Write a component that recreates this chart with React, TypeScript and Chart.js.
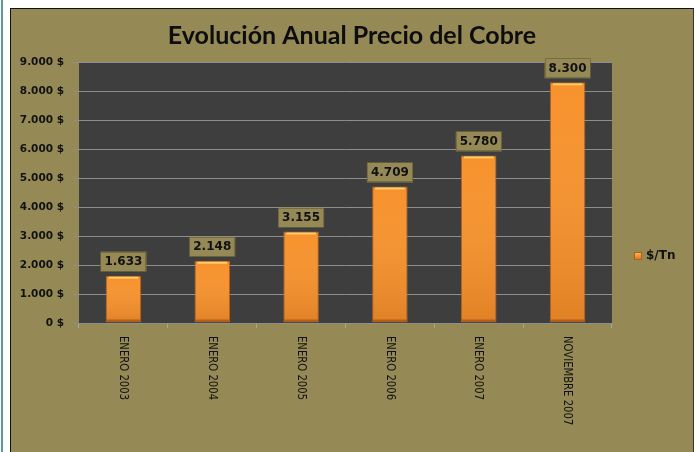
import React, { useEffect, useRef } from "react";
import { Chart, registerables } from "chart.js";

Chart.register(...registerables);

const TITLE = "Evolución Anual Precio del Cobre";
const categories = ["ENERO 2003", "ENERO 2004", "ENERO 2005", "ENERO 2006", "ENERO 2007", "NOVIEMBRE 2007"];
const seriesName = "$/Tn";
const prices = [1633, 2148, 3155, 4709, 5780, 8300];
const yMax = 9000;
const yStep = 1000;

const OLIVE = "#958a55";
const PLOT_BG = "#3e3e3e";

function fmt(v: number): string {
  const s = Math.round(v).toString();
  return s.replace(/\B(?=(\d{3})+(?!\d))/g, ".");
}

function barFill(ctx: any) {
  const chart = ctx.chart;
  const el = chart.getDatasetMeta(0).data[ctx.dataIndex] as any;
  if (!el) return "#f7922c";
  const { x, width } = el.getProps(["x", "width"], true);
  if (!width) return "#f7922c";
  const g = chart.ctx.createLinearGradient(x - width / 2, 0, x + width / 2, 0);
  g.addColorStop(0, "#c8691c");
  g.addColorStop(0.12, "#f08a2a");
  g.addColorStop(0.5, "#fb9832");
  g.addColorStop(0.88, "#f08a2a");
  g.addColorStop(1, "#c8691c");
  return g;
}

const framePlugin = {
  id: "framePlugin",
  beforeDraw(chart: any) {
    const { ctx, chartArea } = chart;
    ctx.save();
    ctx.fillStyle = PLOT_BG;
    ctx.fillRect(chartArea.left, chartArea.top, chartArea.right - chartArea.left, chartArea.bottom - chartArea.top);
    // title
    ctx.fillStyle = "#0d0d0d";
    ctx.font = "bold 25px Lato";
    ctx.textAlign = "center";
    ctx.textBaseline = "middle";
    ctx.fillText(TITLE, 352, 36);
    ctx.restore();
  },
  afterDatasetsDraw(chart: any) {
    const { ctx, chartArea } = chart;
    const meta = chart.getDatasetMeta(0);
    const data = chart.data.datasets[0].data as number[];
    ctx.save();
    // bevel highlights and vertical shading
    meta.data.forEach((el: any) => {
      const { x, y, base, width } = el.getProps(["x", "y", "base", "width"], true);
      const l = x - width / 2;
      const sh = ctx.createLinearGradient(0, y, 0, base);
      sh.addColorStop(0, "rgba(255,255,255,0)");
      sh.addColorStop(1, "rgba(120,50,0,0.18)");
      ctx.fillStyle = sh;
      ctx.fillRect(l + 1, y + 1, width - 2, base - y - 2);
      ctx.fillStyle = "rgba(255,215,120,0.85)";
      ctx.fillRect(l + 3, y + 1, width - 6, 2);
      ctx.fillStyle = "rgba(140,70,15,0.55)";
      ctx.fillRect(l + 1, base - 3, width - 2, 2);
    });
    // data labels
    ctx.font = "bold 12px 'DejaVu Sans'";
    ctx.textAlign = "center";
    ctx.textBaseline = "middle";
    meta.data.forEach((el: any, i: number) => {
      const { x, y } = el.getProps(["x", "y"], true);
      const txt = fmt(data[i]);
      const w = ctx.measureText(txt).width + 8;
      const h = 20;
      const bottom = y - 4;
      ctx.fillStyle = OLIVE;
      ctx.fillRect(x - w / 2, bottom - h, w, h);
      ctx.strokeStyle = "rgba(90,80,40,0.5)";
      ctx.lineWidth = 1;
      ctx.strokeRect(Math.round(x - w / 2) + 0.5, Math.round(bottom - h) + 0.5, Math.round(w) - 1, h - 1);
      ctx.fillStyle = "#111";
      ctx.fillText(txt, x, bottom - h / 2 + 0.5);
    });
    // x labels rotated clockwise (condensed)
    const xs = chart.scales.x;
    ctx.font = "13px 'DejaVu Sans'";
    ctx.textAlign = "left";
    ctx.textBaseline = "middle";
    ctx.fillStyle = "#121212";
    (chart.data.labels as string[]).forEach((lab, i) => {
      const px = xs.getPixelForValue(i);
      ctx.save();
      ctx.translate(px, chartArea.bottom + 13);
      ctx.rotate(Math.PI / 2);
      ctx.scale(0.775, 1);
      ctx.fillText(lab, 0, 0);
      ctx.restore();
    });
    // legend
    const lx = chartArea.right + 23;
    const ly = 256;
    const g = ctx.createLinearGradient(lx, ly - 3, lx, ly + 3);
    g.addColorStop(0, "#fdb050");
    g.addColorStop(1, "#e07a20");
    ctx.fillStyle = g;
    ctx.fillRect(lx, ly - 3, 6, 6);
    ctx.strokeStyle = "#b05e18";
    ctx.strokeRect(lx - 0.5, ly - 3.5, 7, 7);
    ctx.fillStyle = "#111";
    ctx.font = "bold 12px 'DejaVu Sans'";
    ctx.textAlign = "left";
    ctx.fillText(chart.data.datasets[0].label, lx + 11, ly);
    ctx.restore();
  },
};

export default function App() {
  const ref = useRef<HTMLCanvasElement | null>(null);
  useEffect(() => {
    document.body.style.margin = "0";
    if (!ref.current) return;
    const chart = new Chart(ref.current, {
      type: "bar",
      data: {
        labels: categories,
        datasets: [
          {
            label: seriesName,
            data: prices,
            backgroundColor: barFill as any,
            borderColor: "#b85f18",
            borderWidth: 1,
            borderSkipped: false,
            categoryPercentage: 1,
            barPercentage: 0.4,
          },
        ],
      },
      options: {
        responsive: false,
        animation: false,
        events: [],
        layout: { padding: { left: 0, top: 62, right: 697 - 612, bottom: 452 - 323 } },
        plugins: {
          legend: { display: false },
          tooltip: { enabled: false },
          title: { display: false },
        },
        scales: {
          x: {
            type: "category",
            offset: true,
            ticks: { display: false },
            grid: { drawOnChartArea: false, color: "#a8a890", tickLength: 5, offset: true },
            border: { display: false },
            afterFit(scale: any) {
              scale.height = 0;
            },
          },
          y: {
            min: 0,
            max: yMax,
            ticks: {
              stepSize: yStep,
              padding: 9,
              color: "#111",
              font: { family: "DejaVu Sans", size: 10.5, weight: "bold" },
              callback: (v: any) => fmt(Number(v)) + " $",
            },
            grid: { color: "#8e8e8e", tickLength: 6, lineWidth: 1 },
            border: { display: false },
            afterFit(scale: any) {
              scale.width = 79;
            },
          },
        },
      },
      plugins: [framePlugin],
    });
    return () => chart.destroy();
  }, []);

  return (
    <div style={{ position: "relative", width: 697, height: 452, background: "#fff", overflow: "hidden" }}>
      <div style={{ position: "absolute", left: 1, top: 0, width: 2, height: 452, background: "#5c9a98" }} />
      <div
        style={{
          position: "absolute",
          left: 10,
          top: 8,
          width: 684,
          height: 460,
          background: OLIVE,
          borderLeft: "1px solid #111",
          borderTop: "1px solid #111",
          borderRight: "1px solid #333",
          boxSizing: "border-box",
        }}
      />
      <canvas ref={ref} width={697} height={452} style={{ position: "absolute", left: 0, top: 0 }} />
    </div>
  );
}
